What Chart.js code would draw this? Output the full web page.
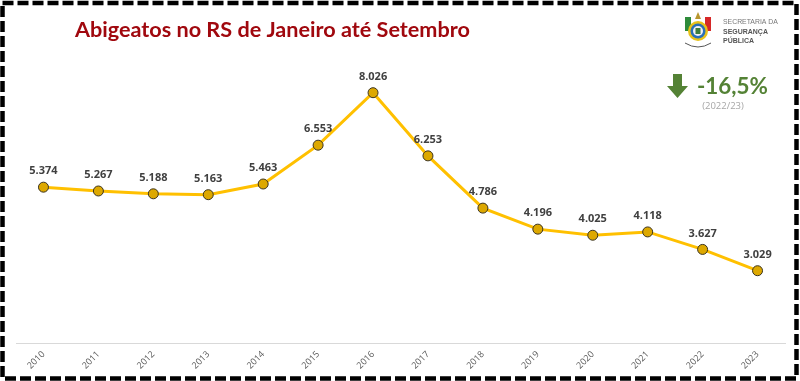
<!DOCTYPE html>
<html>
<head>
<meta charset="utf-8">
<script src="https://cdn.jsdelivr.net/npm/chart.js@4.4.0/dist/chart.umd.min.js"></script>
<style>
html,body{margin:0;padding:0;background:#fff;}
canvas{display:block;}
</style>
</head>
<body>
<canvas id="c" width="800" height="381"></canvas>
<script>
const years = ['2010','2011','2012','2013','2014','2015','2016','2017','2018','2019','2020','2021','2022','2023'];
const abigeatos = [5374,5267,5188,5163,5463,6553,8026,6253,4786,4196,4025,4118,3627,3029];
const titleText = 'Abigeatos no RS de Janeiro até Setembro';
const variationText = '-16,5%';
const variationPeriod = '(2022/23)';
const logoLines = ['SECRETARIA DA','SEGURANÇA','PÚBLICA'];

function fmt(v){ return v.toString().replace(/\B(?=(\d{3})+(?!\d))/g,'.'); }

function fitFont(ctx, weight, family, text, target, base){
  ctx.font = weight+' '+base+'px '+family;
  const w = ctx.measureText(text).width;
  const s = base*target/w;
  ctx.font = weight+' '+s.toFixed(2)+'px '+family;
  return s;
}

const decor = {
  id:'decor',
  afterDraw(chart){
    const ctx = chart.ctx;
    ctx.save();
    // dashed frame
    ctx.strokeStyle = '#000';
    ctx.lineWidth = 4.5;
    ctx.setLineDash([11,4]);
    ctx.strokeRect(2.5,3,794,375.5);
    ctx.setLineDash([]);
    // title
    fitFont(ctx,'bold','Lato',titleText,395,24);
    ctx.fillStyle = '#A0080E';
    ctx.textBaseline = 'alphabetic';
    ctx.textAlign = 'left';
    ctx.fillText(titleText, 75, 37);
    // logo approximation
    const lx = 698, ly = 31;
    ctx.fillStyle = '#2e8b3a';
    ctx.fillRect(lx-13, ly-14, 6, 14);
    ctx.fillStyle = '#d62828';
    ctx.fillRect(lx+7, ly-14, 6, 14);
    ctx.fillStyle = '#e8c21a';
    ctx.beginPath(); ctx.arc(lx, ly, 10, 0, Math.PI*2); ctx.fill();
    ctx.fillStyle = '#2a6fb8';
    ctx.beginPath(); ctx.arc(lx, ly, 7.5, 0, Math.PI*2); ctx.fill();
    ctx.fillStyle = '#f2f2f2';
    ctx.beginPath(); ctx.arc(lx, ly, 5, 0, Math.PI*2); ctx.fill();
    ctx.fillStyle = '#3d7d3d';
    ctx.fillRect(lx-2.5, ly-3, 5, 6);
    ctx.fillStyle = '#b8962e';
    ctx.beginPath(); ctx.moveTo(lx-3, ly-12); ctx.lineTo(lx, ly-19); ctx.lineTo(lx+3, ly-12); ctx.fill();
    ctx.strokeStyle = '#555'; ctx.lineWidth = 1;
    ctx.beginPath(); ctx.moveTo(lx-13, ly+12); ctx.quadraticCurveTo(lx, ly+20, lx+13, ly+12); ctx.stroke();
    ctx.fillStyle = '#777';
    fitFont(ctx,'normal','"Liberation Sans"',logoLines[0],55,9);
    ctx.fillText(logoLines[0], 723, 24);
    ctx.fillStyle = '#555';
    fitFont(ctx,'bold','"Liberation Sans"',logoLines[1],45,9);
    ctx.fillText(logoLines[1], 723, 33.5);
    ctx.fillText(logoLines[2], 723, 43);
    // arrow
    ctx.fillStyle = '#548235';
    ctx.beginPath();
    ctx.moveTo(673,74); ctx.lineTo(682,74); ctx.lineTo(682,86); ctx.lineTo(688,86);
    ctx.lineTo(677.5,98); ctx.lineTo(667,86); ctx.lineTo(673,86); ctx.closePath(); ctx.fill();
    fitFont(ctx,'bold','Lato',variationText,71,24);
    ctx.fillText(variationText, 697, 94);
    ctx.fillStyle = '#a6a6a6';
    ctx.font = '9.5px "Open Sans"';
    ctx.textAlign = 'center';
    ctx.fillText(variationPeriod, 723, 109);
    ctx.restore();
  },
  afterDatasetsDraw(chart){
    const ctx = chart.ctx;
    const meta = chart.getDatasetMeta(0);
    ctx.save();
    ctx.font = 'bold 11px "Open Sans"';
    ctx.fillStyle = '#404040';
    ctx.textAlign = 'center';
    ctx.textBaseline = 'middle';
    meta.data.forEach((p,i)=>{
      ctx.fillText(fmt(abigeatos[i]), p.x, p.y-16);
    });
    ctx.restore();
  }
};

new Chart(document.getElementById('c'), {
  type:'line',
  data:{
    labels: years,
    datasets:[{
      data: abigeatos,
      borderColor:'#FFC000',
      borderWidth:3,
      pointRadius:5,
      pointHoverRadius:5,
      pointBackgroundColor:'#DDA800',
      pointBorderColor:'#3a3320',
      pointBorderWidth:1,
      tension:0
    }]
  },
  options:{
    responsive:false,
    animation:false,
    events:[],
    layout:{padding:{left:16,right:15,top:58,bottom:0}},
    plugins:{legend:{display:false},tooltip:{enabled:false},title:{display:false}},
    scales:{
      y:{display:false,min:1000,max:9000},
      x:{
        offset:true,
        grid:{display:false,drawTicks:false},
        border:{display:true,color:'#d9d9d9',width:1},
        ticks:{color:'#595959',font:{size:9,family:'"Open Sans"'},minRotation:45,maxRotation:45,padding:6},
        afterFit(s){ s.height = 38; s.paddingLeft = 0; s.paddingRight = 0; }
      }
    }
  },
  plugins:[decor]
});
</script>
</body>
</html>
